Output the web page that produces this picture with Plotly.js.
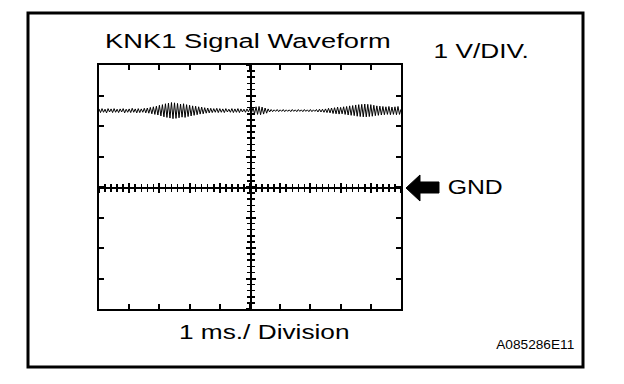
<!DOCTYPE html>
<html>
<head>
<meta charset="utf-8">
<script src="https://cdn.plot.ly/plotly-3.0.1.min.js"></script>
<style>html,body{margin:0;padding:0;background:#fff;}#chart{width:624px;height:384px;}</style>
</head>
<body>
<div id="chart"></div>
<script>
// Waveform samples (volts), one sample every 0.05 ms starting at 0 ms
const sampleStartMs = 0;
const sampleStepMs = 0.05;
const signalVolts = [
  2.56,2.44,2.57,2.45,2.55,2.43,2.57,2.46,2.56,2.44,
  2.57,2.45,2.55,2.44,2.56,2.46,2.57,2.43,2.55,2.45,
  2.56,2.44,2.58,2.45,2.56,2.43,2.57,2.44,2.56,2.45,
  2.58,2.43,2.59,2.42,2.61,2.40,2.63,2.38,2.65,2.36,
  2.68,2.33,2.70,2.30,2.73,2.28,2.75,2.26,2.77,2.24,
  2.76,2.25,2.74,2.27,2.72,2.29,2.73,2.28,2.70,2.31,
  2.68,2.33,2.66,2.35,2.65,2.37,2.63,2.39,2.62,2.40,
  2.60,2.42,2.59,2.43,2.58,2.44,2.57,2.45,2.58,2.44,
  2.57,2.45,2.56,2.44,2.57,2.46,2.55,2.45,2.57,2.44,
  2.56,2.45,2.57,2.44,2.56,2.46,2.55,2.45,2.56,2.46,
  2.58,2.43,2.60,2.40,2.63,2.38,2.64,2.37,2.62,2.39,
  2.59,2.42,2.56,2.46,2.54,2.47,2.53,2.48,2.54,2.47,
  2.53,2.48,2.54,2.47,2.53,2.48,2.53,2.47,2.54,2.48,
  2.53,2.47,2.54,2.48,2.53,2.47,2.54,2.48,2.53,2.47,
  2.54,2.47,2.53,2.48,2.54,2.46,2.55,2.46,2.55,2.45,
  2.56,2.44,2.58,2.43,2.59,2.41,2.60,2.40,2.62,2.39,
  2.61,2.40,2.63,2.38,2.64,2.36,2.66,2.35,2.67,2.34,
  2.69,2.32,2.70,2.31,2.71,2.30,2.72,2.30,2.71,2.31,
  2.70,2.32,2.68,2.34,2.66,2.35,2.65,2.36,2.64,2.37,
  2.63,2.38,2.64,2.37,2.62,2.38,2.63,2.37,2.64,2.38,
  2.55
];
const timeRangeMs = [0, 10];
const voltRange = [-4, 4];
const titleText = "KNK1 Signal Waveform";
const voltScaleText = "1 V/DIV.";
const timeScaleText = "1 ms./ Division";
const gndText = "GND";
const figureId = "A085286E11";

// layout helpers: pixel -> paper coordinates (plot area 99..401 x 65..309)
const L = 99, R = 401, T = 65, B = 309;
const PX = x => (x - L) / (R - L);
const PY = y => (B - y) / (B - T);
const font = "Liberation Sans, Arial, sans-serif";

const frameAxis = {
  showline: true, linecolor: "#000", linewidth: 2, mirror: "ticks",
  ticks: "inside", ticklen: 5, tickwidth: 2, tickcolor: "#000",
  showticklabels: false, showgrid: false, zeroline: false, fixedrange: true
};
function centerAxis(dir, overlay, range) {
  return {
    overlaying: overlay, anchor: "free", position: 0.5, range: range,
    showline: true, linecolor: "#000", linewidth: 1.5,
    ticks: dir, ticklen: 4, tickwidth: 2, tickcolor: "#000", dtick: 1, tick0: 0,
    minor: {ticks: dir, ticklen: 3, tickwidth: 1.5, tickcolor: "#000", dtick: 0.2, tick0: 0, showgrid: false},
    showticklabels: false, showgrid: false, zeroline: false, fixedrange: true
  };
}

const traces = [
  {x0: sampleStartMs, dx: sampleStepMs, y: signalVolts, type: "scatter", mode: "lines",
   line: {color: "#000", width: 1}, hoverinfo: "skip"},
  {x: [], y: [], xaxis: "x2", yaxis: "y2", type: "scatter"},
  {x: [], y: [], xaxis: "x3", yaxis: "y3", type: "scatter"}
];

const arrow = [
  [406,188],[420,175],[420,182],[439,182],[439,193],[420,193],[420,201]
];
const arrowPath = "M " + arrow.map(p => PX(p[0]).toFixed(4) + "," + PY(p[1]).toFixed(4)).join(" L ") + " Z";

function label(text, cx, cy, size) {
  return {text: text, xref: "paper", yref: "paper", x: PX(cx), y: PY(cy),
          xanchor: "center", yanchor: "middle", showarrow: false,
          font: {family: font, size: size, color: "#000"}};
}
// horizontal stretch of each label (reference lettering is wide)
const stretch = [1.3, 1.28, 1.25, 1.24, 1.14];

const layout = {
  width: 624, height: 384,
  margin: {l: L, r: 624 - R, t: T, b: 384 - B, pad: 0},
  paper_bgcolor: "#fff", plot_bgcolor: "#fff",
  showlegend: false,
  xaxis: Object.assign({range: timeRangeMs, dtick: 1, tick0: 0}, frameAxis),
  yaxis: Object.assign({range: voltRange, dtick: 1, tick0: 0}, frameAxis),
  xaxis2: centerAxis("inside", "x", timeRangeMs),
  yaxis2: centerAxis("inside", "y", voltRange),
  xaxis3: centerAxis("outside", "x", timeRangeMs),
  yaxis3: centerAxis("outside", "y", voltRange),
  shapes: [
    {type: "rect", xref: "paper", yref: "paper", x0: PX(28), x1: PX(583), y0: PY(13), y1: PY(367),
     line: {color: "#000", width: 3}, layer: "below"},
    {type: "path", xref: "paper", yref: "paper", path: arrowPath, fillcolor: "#000", line: {color: "#000", width: 1}}
  ],
  annotations: [
    label(titleText, 248, 41, 21),
    label(voltScaleText, 481, 50, 20.5),
    label(timeScaleText, 264, 331, 21),
    label(gndText, 475, 187, 20),
    label(figureId, 535, 345, 12)
  ]
};

Plotly.newPlot("chart", traces, layout, {staticPlot: true, displayModeBar: false}).then(gd => {
  gd.querySelectorAll("g.annotation").forEach((g, i) => {
    const t = g.querySelector("text.annotation-text");
    if (!t) return;
    t.style.transformBox = "fill-box";
    t.style.transformOrigin = "center";
    t.style.transform = "scaleX(" + stretch[i] + ")";
  });
});
</script>
</body>
</html>
